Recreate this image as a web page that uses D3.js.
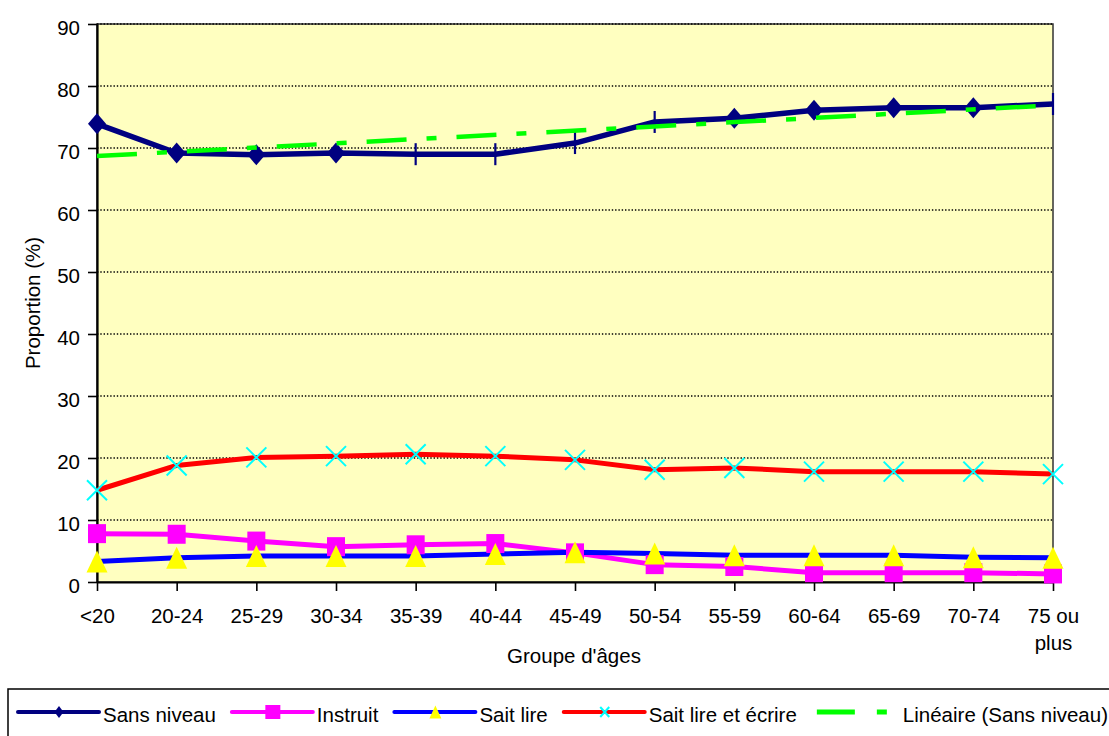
<!DOCTYPE html>
<html>
<head>
<meta charset="utf-8">
<script src="https://cdn.jsdelivr.net/npm/d3@7"></script>
<style>
  body { margin: 0; background: #fff; }
  text { font-family: "Liberation Sans", Arial, sans-serif; fill: #000; }
</style>
</head>
<body>
<div id="chart"></div>
<script>

// age groups
var categories = ["<20", "20-24", "25-29", "30-34", "35-39", "40-44", "45-49",
                  "50-54", "55-59", "60-64", "65-69", "70-74", "75 ou plus"];

// proportions (%)
var sansNiveau     = [73.9, 69.2, 68.9, 69.2, 69.0, 69.0, 70.8, 74.2, 74.8, 76.1, 76.5, 76.5, 77.1];
var instruit       = [7.8, 7.7, 6.6, 5.7, 6.0, 6.2, 4.7, 2.8, 2.5, 1.5, 1.5, 1.5, 1.3];
var saitLire       = [3.3, 3.9, 4.2, 4.2, 4.2, 4.5, 4.8, 4.6, 4.3, 4.3, 4.3, 4.0, 3.9];
var saitLireEcrire = [14.8, 18.8, 20.1, 20.3, 20.6, 20.3, 19.7, 18.1, 18.4, 17.8, 17.8, 17.8, 17.4];

// linear trend of "Sans niveau" read at first and last age group
var trendEnds = [68.7, 76.9];

var yTicks = [0, 10, 20, 30, 40, 50, 60, 70, 80, 90];

var seriesNames = ["Sans niveau", "Instruit", "Sait lire", "Sait lire et écrire", "Linéaire (Sans niveau)"];


var width = 1109, height = 736;
var plotLeft = 97, plotRight = 1053, plotTop = 24, plotBottom = 582;
var fontSize = "20.5px";

var svg = d3.select("#chart").append("svg")
    .attr("width", width)
    .attr("height", height);

var x = d3.scalePoint().domain(categories).range([plotLeft, plotRight]);
var y = d3.scaleLinear().domain([0, 90]).range([plotBottom, plotTop]);

// plot area
svg.append("rect")
    .attr("x", plotLeft).attr("y", plotTop)
    .attr("width", plotRight - plotLeft).attr("height", plotBottom - plotTop)
    .attr("fill", "#FFFFC0")
    .attr("stroke", "#333")
    .attr("stroke-width", 1.5);

// dotted grid
svg.append("g").selectAll("line")
    .data(yTicks.filter(function(d){ return d > 0; }))
    .enter().append("line")
    .attr("x1", plotLeft).attr("x2", plotRight)
    .attr("y1", function(d){ return y(d); })
    .attr("y2", function(d){ return y(d); })
    .attr("stroke", "#000")
    .attr("stroke-width", 1.4)
    .attr("stroke-dasharray", "1.4,1.9");

// y axis
var yAxis = svg.append("g")
    .attr("transform", "translate(" + plotLeft + ",0)")
    .call(d3.axisLeft(y).tickValues(yTicks).tickSize(9).tickPadding(8).tickSizeOuter(0));
yAxis.select(".domain").attr("stroke", "#000").attr("stroke-width", 2.2);
yAxis.selectAll(".tick line").attr("stroke", "#000").attr("stroke-width", 1.6);
yAxis.selectAll(".tick text")
    .attr("font-size", fontSize)
    .attr("font-family", "Liberation Sans, Arial, sans-serif")
    .attr("dy", "0.5em");

// x axis
var xAxis = svg.append("g")
    .attr("transform", "translate(0," + plotBottom + ")")
    .call(d3.axisBottom(x).tickSize(9).tickPadding(0).tickSizeOuter(0));
xAxis.select(".domain").attr("stroke", "#000").attr("stroke-width", 2.2);
xAxis.selectAll(".tick line").attr("stroke", "#000").attr("stroke-width", 1.6);
xAxis.selectAll(".tick text").remove();
xAxis.selectAll(".tick").each(function(d){
  var words = d.split(" ");
  var lines = words.length > 1 ? [words.slice(0, -1).join(" "), words[words.length - 1]] : [d];
  var t = d3.select(this).append("text")
      .attr("text-anchor", "middle")
      .attr("font-size", fontSize)
      .attr("font-family", "Liberation Sans, Arial, sans-serif")
      .attr("fill", "#000");
  lines.forEach(function(l, i){
    t.append("tspan").attr("x", 0).attr("y", 41 + i * 27).text(l);
  });
});

// axis titles
svg.append("text")
    .attr("x", (plotLeft + plotRight) / 2 - 1).attr("y", 663)
    .attr("text-anchor", "middle")
    .attr("font-size", fontSize)
    .text("Groupe d'âges");

svg.append("text")
    .attr("transform", "translate(40," + ((plotTop + plotBottom) / 2) + ") rotate(-90)")
    .attr("text-anchor", "middle")
    .attr("font-size", fontSize)
    .text("Proportion (%)");


// lines
var line = d3.line()
    .x(function(d, i){ return x(categories[i]); })
    .y(function(d){ return y(d); });

var lineColors = ["#000080", "#FF00FF", "#0000FF", "#FF0000"];
var lineWidths = [5.5, 5, 5, 5];
var allSeries = [sansNiveau, instruit, saitLire, saitLireEcrire];

allSeries.forEach(function(s, k){
  svg.append("path")
      .datum(s)
      .attr("d", line)
      .attr("fill", "none")
      .attr("stroke", lineColors[k])
      .attr("stroke-width", lineWidths[k])
      .attr("stroke-linejoin", "round");
});

// marker helpers
function diamond(g, cx, cy, w, h){
  g.append("path")
    .attr("d", "M" + cx + "," + (cy - h) + "L" + (cx + w) + "," + cy + "L" + cx + "," + (cy + h) + "L" + (cx - w) + "," + cy + "Z")
    .attr("fill", "#000080");
}
function square(g, cx, cy, w, h){
  g.append("rect")
    .attr("x", cx - w).attr("y", cy - h)
    .attr("width", 2 * w).attr("height", 2 * h)
    .attr("fill", "#FF00FF");
}
function triangle(g, cx, cy, w, h){
  g.append("path")
    .attr("d", "M" + cx + "," + (cy - h) + "L" + (cx + w) + "," + (cy + h) + "L" + (cx - w) + "," + (cy + h) + "Z")
    .attr("fill", "#FFFF00");
}
function cross(g, cx, cy, w, h){
  g.append("path")
    .attr("d", "M" + (cx - w) + "," + (cy - h) + "L" + (cx + w) + "," + (cy + h) + "M" + (cx + w) + "," + (cy - h) + "L" + (cx - w) + "," + (cy + h))
    .attr("stroke", "#00FFFF")
    .attr("stroke-width", 2)
    .attr("fill", "none");
}

var markers = svg.append("g");

// the diamonds of some points show only as a thin bar in the original
var barOnly = [4, 5, 6, 7, 12];
sansNiveau.forEach(function(v, i){
  var cx = x(categories[i]), cy = y(v);
  if (barOnly.indexOf(i) >= 0) {
    markers.append("line")
      .attr("x1", cx).attr("x2", cx)
      .attr("y1", cy - 11).attr("y2", cy + 11)
      .attr("stroke", "#000080").attr("stroke-width", 2.2);
  } else {
    diamond(markers, cx, cy, 9, 10.5);
  }
});
instruit.forEach(function(v, i){ square(markers, x(categories[i]), y(v), 9, 9.5); });
saitLire.forEach(function(v, i){ triangle(markers, x(categories[i]), y(v), 10.5, 11); });
saitLireEcrire.forEach(function(v, i){ cross(markers, x(categories[i]), y(v), 10, 10); });

// trend line
svg.append("line")
    .attr("x1", x(categories[0])).attr("y1", y(trendEnds[0]))
    .attr("x2", x(categories[categories.length - 1])).attr("y2", y(trendEnds[1]))
    .attr("stroke", "#00FF00")
    .attr("stroke-width", 4.5)
    .attr("stroke-dasharray", "40,20,10,20");


// legend
var legend = svg.append("g");
legend.append("rect")
    .attr("x", 8).attr("y", 689)
    .attr("width", 1130).attr("height", 70)
    .attr("fill", "#fff")
    .attr("stroke", "#000")
    .attr("stroke-width", 1.5);

var lx = 17, ly = 712;
seriesNames.forEach(function(name, k){
  var g = legend.append("g");
  if (k < 4) {
    g.append("line")
      .attr("x1", lx + 1).attr("x2", lx + 82)
      .attr("y1", ly).attr("y2", ly)
      .attr("stroke", lineColors[k])
      .attr("stroke-width", 4)
      .attr("stroke-linecap", "round");
    var mx = lx + 42;
    if (k === 0) diamond(g, mx, ly, 4.5, 6);
    if (k === 1) square(g, mx, ly, 7.5, 7);
    if (k === 2) triangle(g, mx, ly, 6, 6.5);
    if (k === 3) cross(g, mx, ly, 4.5, 5);
  } else {
    g.append("line")
      .attr("x1", lx + 5).attr("x2", lx + 75)
      .attr("y1", ly).attr("y2", ly)
      .attr("stroke", "#00FF00")
      .attr("stroke-width", 5)
      .attr("stroke-dasharray", "38,22,11,30");
    lx = lx + 5;
  }
  var t = g.append("text")
      .attr("x", lx + 86).attr("y", 722)
      .attr("font-size", fontSize)
      .text(name);
  lx = lx + 86 + t.node().getComputedTextLength() + 15;
});

</script>
</body>
</html>
